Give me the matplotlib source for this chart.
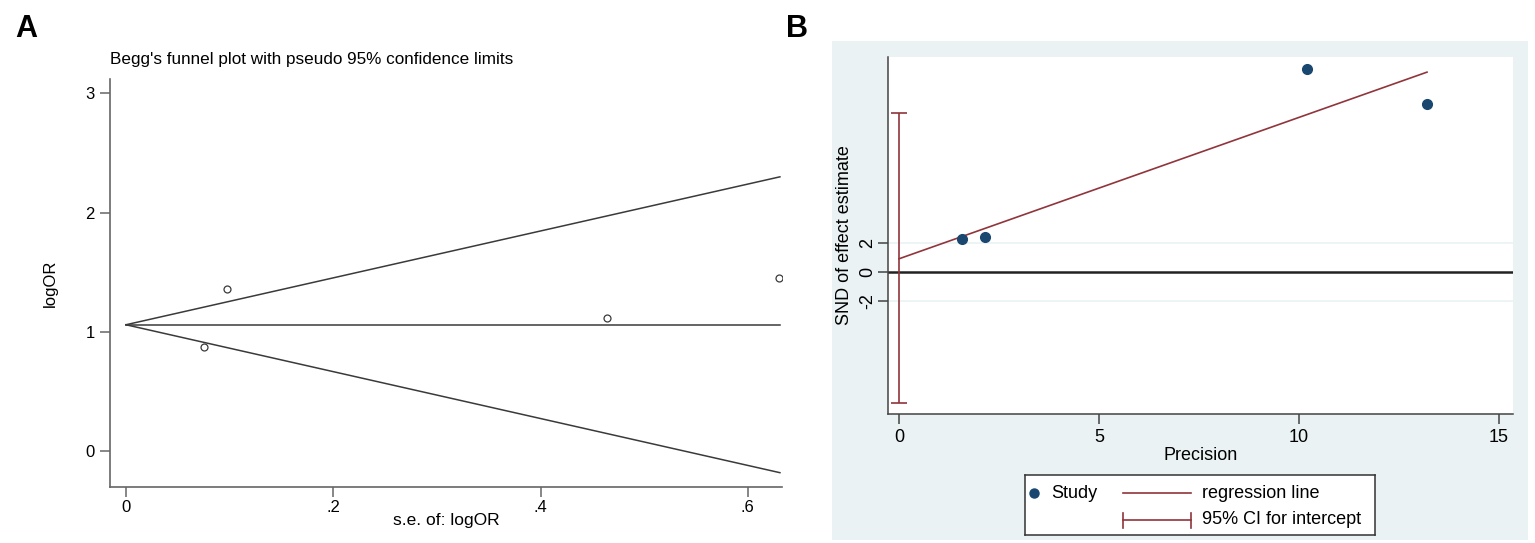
import matplotlib
matplotlib.use('Agg')
import matplotlib.pyplot as plt
from matplotlib.patches import Rectangle

plt.rcParams['font.family'] = ['Liberation Sans', 'DejaVu Sans']
plt.rcParams['axes.unicode_minus'] = False

# A: Begg's funnel plot
se_vals = [0.075, 0.0975, 0.464, 0.630]
logor_vals = [0.874, 1.36, 1.117, 1.453]
pooled_logor = 1.06
funnel_se = [0.0, 0.631]
funnel_upper = [1.06, 2.30]
funnel_lower = [1.06, -0.18]
a_xticks = [0, 0.2, 0.4, 0.6]
a_xlabels = ['0', '.2', '.4', '.6']
a_yticks = [0, 1, 2, 3]

# B: Egger's regression plot
precision = [13.2, 10.2, 2.15, 1.58]
snd = [11.4, 13.8, 2.38, 2.24]
reg_x = [0.0, 13.2]
reg_y = [0.9, 13.6]
ci_intercept = [-8.9, 10.8]
b_xticks = [0, 5, 10, 15]
b_yticks = [-2, 0, 2]

NAVY = '#1a476f'
MAROON = '#90353b'
BLUEGRAY = '#eaf2f3'
DARK = '#3a3a3a'

W, H = 1535, 543


def box(l, t, r, b):
    # pixel box -> figure fraction
    return [l / W, 1 - b / H, (r - l) / W, (b - t) / H]


fig = plt.figure(figsize=(W / 100, H / 100), dpi=100)

# ---------- panel A ----------
axA = fig.add_axes(box(110, 79, 782, 487))
axA.plot(funnel_se, funnel_upper, color=DARK, lw=1.1)
axA.plot(funnel_se, funnel_lower, color=DARK, lw=1.1)
axA.plot([funnel_se[0], funnel_se[-1]], [pooled_logor, pooled_logor], color=DARK, lw=1.1)
axA.plot(se_vals, logor_vals, 'o', mfc='none', mec=DARK, ms=5, mew=0.9)
axA.set_xlim(-0.0154, 0.633)
axA.set_ylim(-0.30, 3.12)
axA.set_xticks(a_xticks)
axA.set_xticklabels(a_xlabels)
axA.set_yticks(a_yticks)
for s in ['top', 'right']:
    axA.spines[s].set_visible(False)
for s in ['left', 'bottom']:
    axA.spines[s].set_color('#666666')
    axA.spines[s].set_linewidth(1.2)
axA.tick_params(direction='out', length=7, width=1.1, color='#666666', labelsize=12)
axA.tick_params(axis='x', pad=2)
axA.tick_params(axis='y', pad=4)
axA.set_title("Begg's funnel plot with pseudo 95% confidence limits", loc='left',
              fontsize=12.3, pad=11)
axA.set_xlabel('s.e. of: logOR', fontsize=12.5, va='center')
axA.xaxis.set_label_coords(0.5, -(520 - 487) / 408)
axA.set_ylabel('logOR', fontsize=12, va='center')
axA.yaxis.set_label_coords((50 - 110) / 672, 0.5)

fig.text(15 / W, 1 - 37 / H, 'A', fontsize=22, fontweight='bold')
fig.text(786 / W, 1 - 37 / H, 'B', fontsize=22, fontweight='bold')

# ---------- panel B ----------
fig.add_artist(Rectangle((832 / W, 1 - 540 / H), (1528 - 832) / W, (540 - 41) / H,
                         transform=fig.transFigure, facecolor=BLUEGRAY,
                         edgecolor='none', zorder=0))

axB = fig.add_axes(box(888, 57, 1513, 414))
axB.set_facecolor('white')
for v in b_yticks:
    if v != 0:
        axB.axhline(v, color=BLUEGRAY, lw=1.2, zorder=0)
axB.axhline(0, color='#222222', lw=1.8, zorder=1)
axB.plot(reg_x, reg_y, color=MAROON, lw=1.2, zorder=2)
ci_mid = (ci_intercept[0] + ci_intercept[1]) / 2
axB.errorbar([0], [ci_mid], yerr=[[ci_mid - ci_intercept[0]], [ci_intercept[1] - ci_mid]],
             fmt='none', ecolor=MAROON, elinewidth=1.2, capsize=6, capthick=1.2, zorder=2)
axB.plot(precision, snd, 'o', color=NAVY, ms=7, zorder=3)
axB.set_xlim(-0.275, 15.35)
axB.set_ylim(-9.66, 14.63)
axB.set_xticks(b_xticks)
axB.set_yticks(b_yticks)
for lab in axB.get_yticklabels():
    lab.set_rotation(90)
    lab.set_va('center')
for s in ['top', 'right']:
    axB.spines[s].set_visible(False)
for s in ['left', 'bottom']:
    axB.spines[s].set_color('#444444')
    axB.spines[s].set_linewidth(1.1)
axB.tick_params(direction='out', length=7, width=1.1, color='#444444', labelsize=13)
axB.tick_params(axis='x', pad=4)
axB.tick_params(axis='y', pad=1.5)
axB.set_xlabel('Precision', fontsize=13, va='center')
axB.xaxis.set_label_coords(0.5, -(455 - 414) / 357)
axB.set_ylabel('SND of effect estimate', fontsize=13, va='center')
axB.yaxis.set_label_coords((845 - 888) / 625, 0.5)

# legend box drawn by hand in its own pixel-unit axes
leg = fig.add_axes(box(1025, 475, 1375, 535))
leg.set_xlim(0, 350)
leg.set_ylim(60, 0)
leg.set_xticks([])
leg.set_yticks([])
for s in leg.spines.values():
    s.set_color('#333333')
    s.set_linewidth(1.1)
leg.plot([9], [18], 'o', color=NAVY, ms=6.5)
leg.text(26, 18, 'Study', va='center', fontsize=13)
leg.plot([98, 166], [18, 18], color=MAROON, lw=1.2)
leg.text(177, 18, 'regression line', va='center', fontsize=13)
leg.plot([98, 166], [45, 45], color=MAROON, lw=1.2)
leg.plot([98, 98], [38, 53], color=MAROON, lw=1.2)
leg.plot([166, 166], [38, 53], color=MAROON, lw=1.2)
leg.text(177, 45, '95% CI for intercept', va='center', fontsize=13)

fig.savefig('out.png', dpi=100)
